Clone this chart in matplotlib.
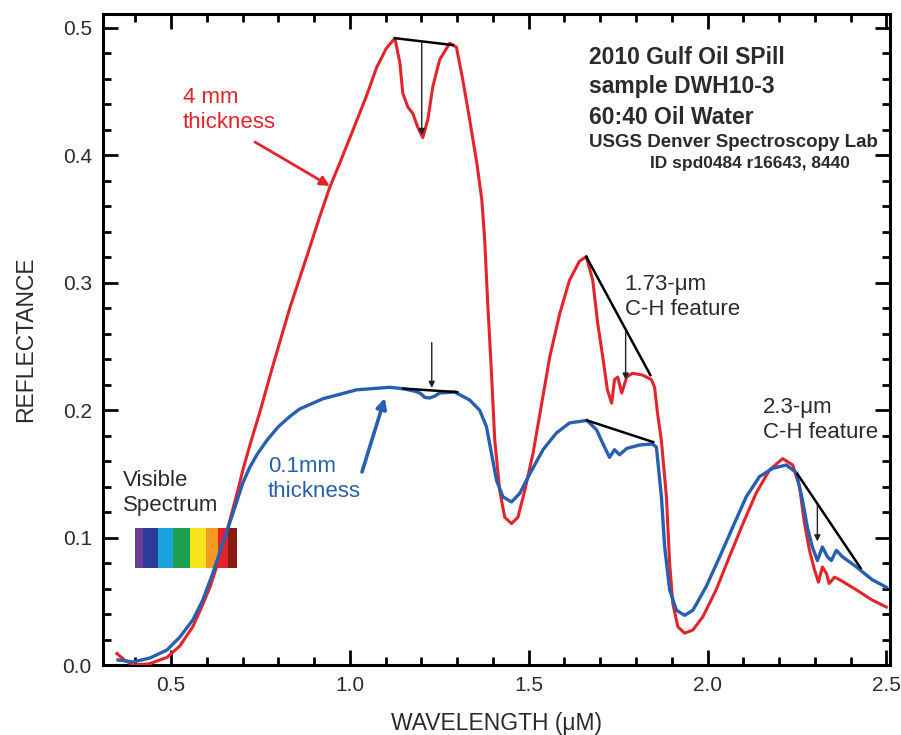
import numpy as np
import matplotlib.pyplot as plt
from matplotlib.ticker import MultipleLocator
from matplotlib.patches import Rectangle

plt.rcParams['font.family'] = ['Liberation Sans', 'DejaVu Sans']

# 4 mm oil layer (red)
red_x = [0.349, 0.37, 0.394, 0.44, 0.489, 0.525, 0.561, 0.585, 0.609, 0.637, 0.665, 0.684,
         0.701, 0.72, 0.749, 0.786, 0.832, 0.879, 0.916, 0.944, 0.972, 1.009, 1.047, 1.075,
         1.102, 1.126, 1.14, 1.148, 1.162, 1.176, 1.19, 1.204, 1.218, 1.232, 1.251, 1.279,
         1.298, 1.316, 1.335, 1.355, 1.369, 1.377, 1.386, 1.396, 1.405, 1.419, 1.433, 1.452,
         1.47, 1.489, 1.512, 1.535, 1.559, 1.587, 1.614, 1.642, 1.661, 1.679, 1.693, 1.707,
         1.72, 1.732, 1.74, 1.749, 1.76, 1.774, 1.79, 1.818, 1.843, 1.852, 1.86, 1.871, 1.885,
         1.894, 1.903, 1.917, 1.936, 1.959, 1.987, 2.024, 2.061, 2.099, 2.136, 2.173, 2.21,
         2.238, 2.257, 2.271, 2.285, 2.299, 2.31, 2.321, 2.332, 2.34, 2.355, 2.369, 2.416,
         2.46, 2.5]
red_y = [0.009, 0.004, 0.000, 0.001, 0.006, 0.015, 0.030, 0.045, 0.061, 0.085, 0.114, 0.134,
         0.153, 0.172, 0.199, 0.236, 0.280, 0.320, 0.352, 0.375, 0.394, 0.420, 0.447, 0.469,
         0.484, 0.492, 0.4725, 0.449, 0.438, 0.433, 0.422, 0.414, 0.428, 0.454, 0.475, 0.488,
         0.485, 0.459, 0.428, 0.394, 0.365, 0.334, 0.281, 0.229, 0.177, 0.137, 0.116, 0.111,
         0.116, 0.137, 0.166, 0.203, 0.242, 0.276, 0.302, 0.317, 0.3205, 0.302, 0.268, 0.242,
         0.216, 0.2055, 0.224, 0.226, 0.2135, 0.226, 0.229, 0.2276, 0.224, 0.218, 0.198, 0.176,
         0.132, 0.080, 0.048, 0.030, 0.025, 0.0275, 0.038, 0.059, 0.085, 0.111, 0.135, 0.153,
         0.162, 0.157, 0.140, 0.111, 0.090, 0.0746, 0.065, 0.077, 0.072, 0.064, 0.069, 0.067,
         0.059, 0.051, 0.0455]

# 0.1 mm oil layer (blue)
blue_x = [0.352, 0.394, 0.441, 0.489, 0.525, 0.561, 0.589, 0.617, 0.645, 0.673, 0.701, 0.72,
          0.74, 0.77, 0.80, 0.832, 0.86, 0.925, 1.019, 1.112, 1.15, 1.18, 1.196, 1.21, 1.223,
          1.237, 1.251, 1.293, 1.335, 1.363, 1.382, 1.396, 1.41, 1.428, 1.452, 1.475, 1.503,
          1.54, 1.577, 1.614, 1.663, 1.69, 1.707, 1.726, 1.74, 1.754, 1.774, 1.81, 1.846, 1.857,
          1.871, 1.88, 1.894, 1.913, 1.936, 1.959, 1.996, 2.034, 2.071, 2.108, 2.145, 2.182,
          2.22, 2.248, 2.265, 2.279, 2.293, 2.307, 2.321, 2.335, 2.346, 2.36, 2.377, 2.416,
          2.46, 2.5]
blue_y = [0.004, 0.0024, 0.0055, 0.0118, 0.022, 0.0353, 0.051, 0.072, 0.0955, 0.119, 0.143, 0.155,
          0.165, 0.177, 0.187, 0.195, 0.201, 0.209, 0.216, 0.218, 0.2168, 0.215, 0.2135, 0.210,
          0.2096, 0.211, 0.2135, 0.2143, 0.208, 0.200, 0.187, 0.166, 0.145, 0.132, 0.128, 0.1347,
          0.150, 0.169, 0.182, 0.190, 0.192, 0.1845, 0.174, 0.163, 0.169, 0.165, 0.170, 0.1727,
          0.1735, 0.171, 0.132, 0.093, 0.059, 0.043, 0.039, 0.043, 0.0615, 0.085, 0.1086, 0.132,
          0.1478, 0.1544, 0.157, 0.151, 0.130, 0.108, 0.0926, 0.082, 0.0926, 0.085, 0.082, 0.090,
          0.085, 0.077, 0.067, 0.061]

# continuum lines across absorption features: (x0, y0, x1, y1)
continua = [(1.126, 0.492, 1.288, 0.4866),
            (1.15, 0.2170, 1.30, 0.2142),
            (1.661, 0.3205, 1.840, 0.2276),
            (1.663, 0.192, 1.848, 0.175),
            (2.251, 0.150, 2.428, 0.076)]
# band depth arrows: (x, y_top, y_bottom)
depths = [(1.201, 0.490, 0.416),
          (1.229, 0.253, 0.2175),
          (1.771, 0.262, 0.224),
          (2.307, 0.126, 0.097)]

spectrum_edges = [0.399, 0.4225, 0.4645, 0.506, 0.553, 0.5975, 0.632, 0.660, 0.685]
spectrum_colors = ['#6b3c99', '#2c3b97', '#1ba3dd', '#1e9f4f', '#f6e51e', '#f19b22',
                   '#e4222b', '#861b12']

RED = '#e3242b'
BLUE = '#2760b0'
TXT = '#2b2b2b'

fig = plt.figure(figsize=(9.01, 7.35), dpi=100)
ax = fig.add_axes([0.1143, 0.0952, 0.8735, 0.8858])

ax.plot(red_x, red_y, color=RED, lw=2.2, zorder=3, solid_joinstyle='round')
ax.plot(blue_x, blue_y, color=BLUE, lw=2.4, zorder=4, solid_joinstyle='round')

for x0, y0, x1, y1 in continua:
    ax.plot([x0, x1], [y0, y1], color='black', lw=1.8, zorder=5)
for x, yt, yb in depths:
    ax.annotate('', xy=(x, yb), xytext=(x, yt),
                arrowprops=dict(arrowstyle='-|>', color='#222222', lw=1.0,
                                mutation_scale=9, shrinkA=0, shrinkB=0), zorder=6)

# visible spectrum swatch
for i, c in enumerate(spectrum_colors):
    ax.add_patch(Rectangle((spectrum_edges[i], 0.0761), spectrum_edges[i + 1] - spectrum_edges[i],
                           0.0314, facecolor=c, edgecolor='none', zorder=2))

ax.text(0.366, 0.135, 'Visible\nSpectrum', fontsize=16, color=TXT, va='center', ha='left',
        linespacing=1.2)
ax.text(0.534, 0.4356, '4 mm\nthickness', fontsize=16, color=RED, va='center', ha='left',
        linespacing=1.25)
ax.text(0.771, 0.146, '0.1mm\nthickness', fontsize=16, color=BLUE, va='center', ha='left',
        linespacing=1.25)
ax.annotate('', xy=(0.944, 0.376), xytext=(0.735, 0.4105),
            arrowprops=dict(arrowstyle='-|>', color=RED, lw=2.0, mutation_scale=14,
                            shrinkA=0, shrinkB=0))
ax.annotate('', xy=(1.098, 0.2096), xytext=(1.034, 0.1515),
            arrowprops=dict(arrowstyle='-|>', color=BLUE, lw=2.6, mutation_scale=15,
                            shrinkA=0, shrinkB=0))

ax.text(1.768, 0.2885, '1.73-μm\nC-H feature', fontsize=16, color=TXT, va='center', ha='left',
        linespacing=1.25)
ax.text(2.154, 0.1923, '2.3-μm\nC-H feature', fontsize=16, color=TXT, va='center', ha='left',
        linespacing=1.25)

ax.text(1.668, 0.4765, '2010 Gulf Oil SPill', fontsize=16.5, fontweight='bold', color=TXT, va='center')
ax.text(1.668, 0.4537, 'sample DWH10-3', fontsize=16.5, fontweight='bold', color=TXT, va='center')
ax.text(1.668, 0.4301, '60:40 Oil Water', fontsize=16.5, fontweight='bold', color=TXT, va='center')
ax.text(1.668, 0.4105, 'USGS Denver Spectroscopy Lab', fontsize=13.5, fontweight='bold', color=TXT,
        va='center')
ax.text(1.838, 0.3940, 'ID spd0484 r16643, 8440', fontsize=12.5, fontweight='bold', color=TXT,
        va='center')

ax.set_xlim(0.31, 2.51)
ax.set_ylim(0.0, 0.511)
ax.xaxis.set_major_locator(MultipleLocator(0.5))
ax.xaxis.set_minor_locator(MultipleLocator(0.1))
ax.yaxis.set_major_locator(MultipleLocator(0.1))
ax.yaxis.set_minor_locator(MultipleLocator(0.02))
ax.xaxis.set_major_formatter(plt.FormatStrFormatter('%.1f'))
ax.yaxis.set_major_formatter(plt.FormatStrFormatter('%.1f'))
ax.tick_params(which='both', direction='in', top=True, right=True, width=2.0, color='black')
ax.tick_params(which='major', length=11, labelsize=15, labelcolor=TXT, pad=8)
ax.tick_params(which='minor', length=6)
for s in ax.spines.values():
    s.set_linewidth(2.2)

ax.set_xlabel('WAVELENGTH (μM)', fontsize=16.5, color=TXT, labelpad=12)
ax.set_ylabel('REFLECTANCE', fontsize=16.5, color=TXT, labelpad=18)

fig.savefig('out.png', dpi=100)
